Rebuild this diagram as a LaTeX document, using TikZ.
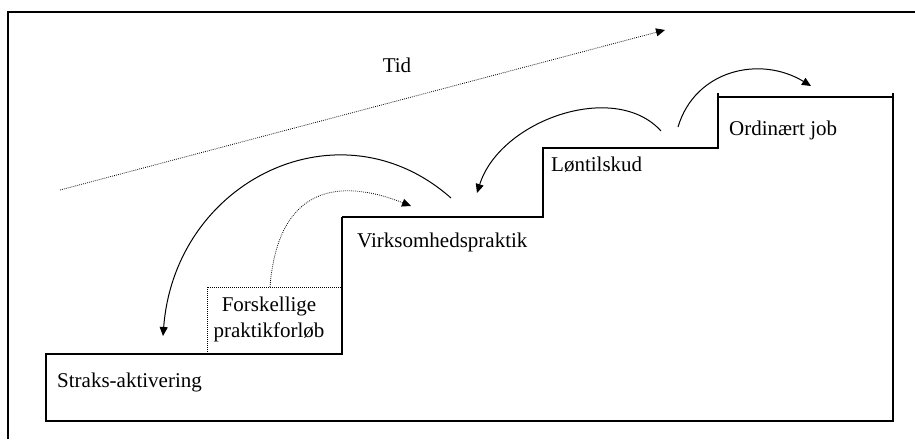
\documentclass[tikz,border=0pt]{standalone}
\usepackage{fontspec}
\setmainfont{Liberation Serif}
\usetikzlibrary{arrows.meta}
\begin{document}
\begin{tikzpicture}[x=1pt,y=-1pt,
  lbl/.style={anchor=base west,inner sep=0pt,font=\fontsize{21}{26}\selectfont},
  stair/.style={line width=1.3pt},
  hop/.style={line width=1pt,-{Triangle[length=9pt,width=8pt]}},
  dothop/.style={hop,line width=0.8pt,dash pattern=on 0.8pt off 1.2pt}]
  \useasboundingbox (0,0) rectangle (915,439);

  % Outer frame (only top and left show)
  \draw[line width=2pt] (8,439) -- (8,12) -- (915,12);

  % The staircase
  \draw[stair] (342,217) -- (342,354) -- (46,354) -- (46,421) -- (893,421) -- (893,93);
  \draw[stair] (718,93) -- (718,148) -- (543,148) -- (543,217) -- (342,217);
  \draw[stair] (718,97) -- (893,97);
  \draw[line width=0.8pt,dash pattern=on 0.8pt off 1.2pt] (207,354) -- (207,287) -- (342,287);

  % Labels
  \node[lbl,anchor=base] (tid) at (397,72) {Tid};
  \node[lbl] (straks) at (57,387) {Straks-aktivering};
  \node[lbl,anchor=base,align=center] (forsk) at (269,337) {Forskellige\\praktikforløb};
  \node[lbl] (virk) at (357,247) {Virksomhedspraktik};
  \node[lbl] (lont) at (551,171) {Løntilskud};
  \node[lbl] (ordin) at (729,135) {Ordinært job};

  % End points of the hops
  \coordinate (t0) at (60,190);
  \coordinate (t1) at (665,30);
  \coordinate (a0) at (163,336);
  \coordinate (a1) at (451,198);
  \coordinate (b0) at (270,287);
  \coordinate (b1) at (411,206);
  \coordinate (c0) at (477,193);
  \coordinate (c1) at (661,131);
  \coordinate (d0) at (678,127);
  \coordinate (d1) at (811,86);

  % Hops between the steps
  \draw[dothop] (t0) -- (t1);
  \draw[hop,{Triangle[length=9pt,width=8pt]}-] (a0) .. controls (175,180) and (340,100) .. (a1);
  \draw[dothop] (b0) .. controls (278,185) and (340,178) .. (b1);
  \draw[hop,{Triangle[length=9pt,width=8pt]}-] (c0) .. controls (500,120) and (615,80) .. (c1);
  \draw[hop] (d0) .. controls (695,70) and (760,55) .. (d1);
\end{tikzpicture}
\end{document}
